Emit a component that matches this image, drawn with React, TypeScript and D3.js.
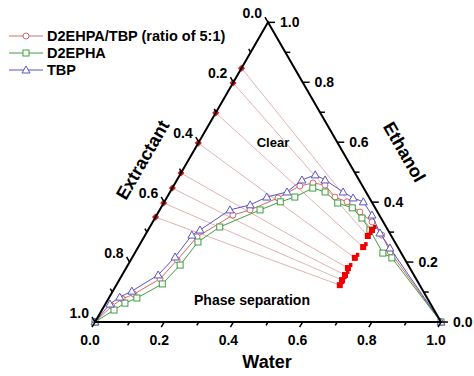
import React from "react";
import * as d3 from "d3";

// Ternary data: [water, ethanol] (extractant = 1 - water - ethanol)
const tbpCurve: [number, number][] = [
  [0, 0], [0.013, 0.06], [0.03, 0.083], [0.055, 0.103], [0.104, 0.157], [0.123, 0.217],
  [0.135, 0.29], [0.15, 0.307], [0.203, 0.374], [0.253, 0.391], [0.288, 0.417], [0.338, 0.434],
  [0.361, 0.474], [0.391, 0.491], [0.428, 0.474], [0.5, 0.434], [0.539, 0.414], [0.575, 0.401],
  [0.622, 0.357], [0.675, 0.297], [0.729, 0.247], [1, 0],
];
const mixCurve: [number, number][] = [
  [0, 0], [0.022, 0.053], [0.04, 0.077], [0.066, 0.093], [0.116, 0.144], [0.134, 0.207],
  [0.153, 0.284], [0.22, 0.357], [0.261, 0.374], [0.322, 0.414], [0.365, 0.454], [0.398, 0.464],
  [0.436, 0.457], [0.485, 0.417], [0.528, 0.401], [0.582, 0.367], [0.634, 0.334], [0.684, 0.29],
  [0.736, 0.234], [1, 0],
];
const d2ephaCurve: [number, number][] = [
  [0, 0], [0.035, 0.04], [0.055, 0.063], [0.081, 0.08], [0.131, 0.127], [0.151, 0.19],
  [0.164, 0.267], [0.202, 0.317], [0.29, 0.374], [0.335, 0.401], [0.369, 0.417], [0.406, 0.447],
  [0.448, 0.434], [0.503, 0.397], [0.553, 0.381], [0.598, 0.347], [0.641, 0.307], [0.717, 0.23],
  [0.751, 0.214], [1, 0],
];
// Tie lines
const tieLeftEthanol = [0.847, 0.798, 0.698, 0.597, 0.497, 0.447, 0.397, 0.35];
const tieRightWater = [0.647, 0.645, 0.65, 0.644, 0.641, 0.644, 0.644, 0.646];
const tieRightEthanol = [0.307, 0.287, 0.25, 0.214, 0.18, 0.157, 0.14, 0.123];

const legendLabels = ["D2EHPA/TBP (ratio of 5:1)", "D2EPHA", "TBP"];
const majorTicks = [0, 0.2, 0.4, 0.6, 0.8, 1.0];
const allTicks = d3.range(0, 11).map((i) => i / 10);

const W = 474;
const Hh = 376;
const L = 346;
const TH = (L * Math.sqrt(3)) / 2;
const X0 = 95;
const Y0 = 322;

const sx = d3.scaleLinear().domain([0, 1]).range([X0, X0 + L]);
const sy = d3.scaleLinear().domain([0, 1]).range([Y0, Y0 - TH]);
const P = (w: number, e: number): [number, number] => [sx(w + e / 2), sy(e)];

const RED = "#d46a6a";
const GREEN = "#3f9f3f";
const BLUE = "#5a55c4";
const FONT = "'Liberation Sans', Arial, sans-serif";

const line = d3.line<[number, number]>().x((d) => P(d[0], d[1])[0]).y((d) => P(d[0], d[1])[1]);

function Circle({ x, y, c }: { x: number; y: number; c: string }) {
  return <circle cx={x} cy={y} r={3} fill="white" stroke={c} strokeWidth={1} />;
}
function Square({ x, y, c }: { x: number; y: number; c: string }) {
  return <rect x={x - 3} y={y - 3} width={6} height={6} fill="white" stroke={c} strokeWidth={1} />;
}
function Tri({ x, y, c }: { x: number; y: number; c: string }) {
  const s = 4;
  return (
    <path
      d={`M${x},${y - s}L${x + s},${y + s * 0.75}L${x - s},${y + s * 0.75}Z`}
      fill="white"
      stroke={c}
      strokeWidth={1}
    />
  );
}

export default function App() {
  const top = P(0, 1);
  const bl = P(0, 0);
  const br = P(1, 0);

  const series = [
    { data: mixCurve, color: RED, M: Circle },
    { data: d2ephaCurve, color: GREEN, M: Square },
    { data: tbpCurve, color: BLUE, M: Tri },
  ];

  const c60 = 0.5, s60 = Math.sqrt(3) / 2;

  return (
    <svg
      width={W}
      height={Hh}
      style={{ position: "absolute", left: 0, top: 0, background: "white" }}
      fontFamily={FONT}
      fontWeight="bold"
    >
      {/* tie lines */}
      {tieLeftEthanol.map((e, i) => {
        const a = P(0, e);
        const b = P(tieRightWater[i], tieRightEthanol[i]);
        return <line key={i} x1={a[0]} y1={a[1]} x2={b[0]} y2={b[1]} stroke="#d9a0a0" strokeWidth={0.8} />;
      })}

      {/* curves */}
      {series.map((s, i) => (
        <g key={i}>
          <path d={line(s.data) || ""} fill="none" stroke={s.color} strokeWidth={1} />
          {s.data.map((d, j) => {
            const [x, y] = P(d[0], d[1]);
            return <s.M key={j} x={x} y={y} c={s.color} />;
          })}
        </g>
      ))}

      {/* tie line end markers */}
      {tieLeftEthanol.map((e, i) => {
        const [x, y] = P(0, e);
        return <rect key={"l" + i} x={x - 2.5} y={y - 2.5} width={5} height={5} fill="#d81818" transform={`rotate(45 ${x} ${y})`} />;
      })}
      {tieRightWater.map((w, i) => {
        const [x, y] = P(w, tieRightEthanol[i]);
        return (
          <g key={"r" + i} fill="#ee0000">
            <rect x={x - 3} y={y - 3} width={6} height={6} />
            <rect x={x + 1} y={y - 5} width={3.5} height={4} />
          </g>
        );
      })}

      {/* triangle axes */}
      <path
        d={`M${bl[0]},${bl[1]}L${br[0]},${br[1]}L${top[0]},${top[1]}Z`}
        fill="none"
        stroke="black"
        strokeWidth={2}
        strokeLinejoin="miter"
      />

      {/* ticks */}
      {allTicks.map((t, i) => {
        const major = i % 2 === 0;
        const len = major ? 6 : 4;
        const b = P(t, 0);
        const r = P(1 - t, t);
        const l = P(0, 1 - t);
        return (
          <g key={i} stroke="black" strokeWidth={1.5}>
            <line x1={b[0]} y1={b[1]} x2={b[0] - c60 * len} y2={b[1] + s60 * len} />
            <line x1={r[0]} y1={r[1]} x2={r[0] + len + 1} y2={r[1]} />
            <line x1={l[0]} y1={l[1]} x2={l[0] - c60 * len} y2={l[1] - s60 * len} />
          </g>
        );
      })}

      {/* tick labels */}
      {majorTicks.map((t, i) => {
        const b = P(t, 0);
        const r = P(1 - t, t);
        const l = P(0, 1 - t);
        const lab = t.toFixed(1);
        return (
          <g key={"tl" + i} fontSize={14} fill="black">
            <text x={b[0] - 5} y={b[1] + 23} textAnchor="middle">{lab}</text>
            <text x={r[0] + 12} y={r[1] + 5} textAnchor="start">{lab}</text>
            <text x={l[0] - 6} y={l[1] - 4} textAnchor="end">{lab}</text>
          </g>
        );
      })}

      {/* axis titles */}
      <text x={267} y={368} fontSize={18} textAnchor="middle">Water</text>
      <text x={0} y={0} fontSize={18} textAnchor="middle" transform="translate(148,163) rotate(-60)">Extractant</text>
      <text x={0} y={0} fontSize={18} textAnchor="middle" transform="translate(399,155) rotate(60)">Ethanol</text>

      {/* region labels */}
      <text x={273} y={147} fontSize={13} textAnchor="middle">Clear</text>
      <text x={252} y={305} fontSize={14} textAnchor="middle">Phase separation</text>

      {/* legend */}
      {legendLabels.map((lab, i) => {
        const y = 36 + i * 17;
        const s = series[i];
        return (
          <g key={"lg" + i}>
            <line x1={9} x2={43} y1={y} y2={y} stroke={s.color} strokeWidth={1} />
            <s.M x={26} y={y} c={s.color} />
            <text x={47} y={y + 5} fontSize={14.5} fill="black">{lab}</text>
          </g>
        );
      })}
    </svg>
  );
}
